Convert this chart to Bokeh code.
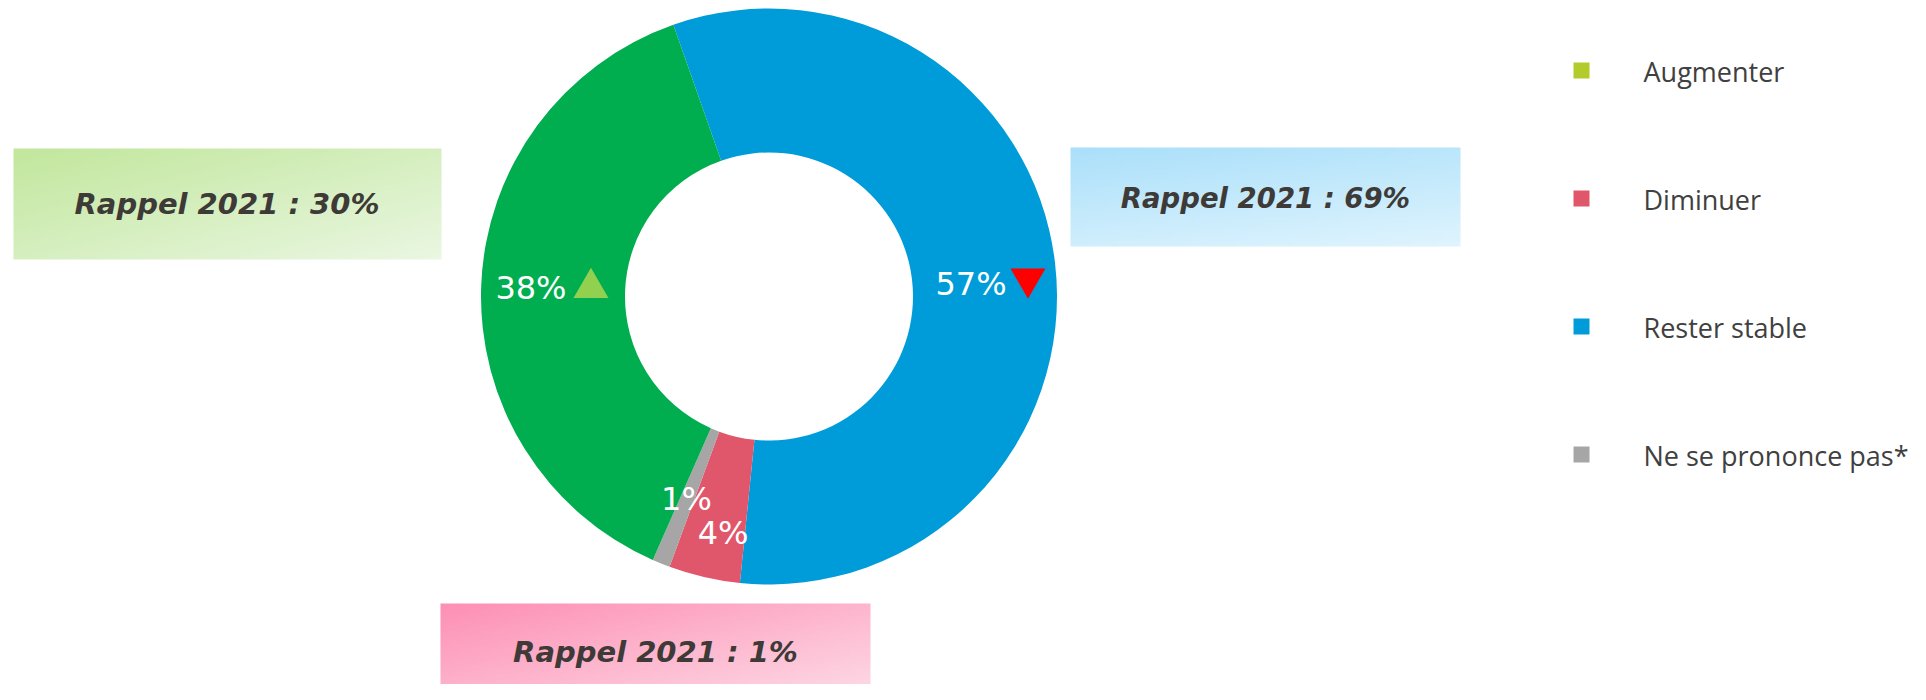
import numpy as np
from bokeh.plotting import figure
from bokeh.models import Range1d
from bokeh.core.properties import value
from bokeh.embed import file_html
from bokeh.resources import INLINE

# ---------------- data ----------------
categories = ["Augmenter", "Diminuer", "Rester stable", "Ne se prononce pas*"]
values_2023 = [38, 4, 57, 1]
rappel_2021 = [30, 1, 69, None]
trend = ["up", None, "down", None]
slice_colors = ["#00AE4F", "#E0566B", "#009CD9", "#A6A6A6"]
legend_colors = ["#B4CC2B", "#E0566B", "#009CD9", "#A6A6A6"]

# ---------------- layout helpers ----------------
W, H = 1910, 684
OFF = 0
BASE_FIX = 0.38  # baseline correction (fraction of font size)


def fx(X):
    return X - OFF


def fy(Y):
    return H + OFF - Y


p = figure(width=W, height=H, output_backend="svg", toolbar_location=None,
           x_range=Range1d(0, W), y_range=Range1d(0, H),
           x_axis_type=None, y_axis_type=None, min_border=0)
p.grid.visible = False
p.outline_line_color = None
p.background_fill_color = "white"
p.border_fill_color = "white"


def hex_rgb(h):
    h = h.lstrip("#")
    return np.array([int(h[i:i + 2], 16) for i in (0, 2, 4)], dtype=float)


def gradient_box(left, top, right, bottom, c0, c1, wx=0.5):
    w, h = right - left, bottom - top
    nx, ny = max(2, int(w // 3)), max(2, int(h // 3))
    u = np.linspace(0, 1, nx)[None, :]
    v = np.linspace(0, 1, ny)[:, None]
    t = wx * u + (1 - wx) * v
    a, b = hex_rgb(c0), hex_rgb(c1)
    rgb = a[None, None, :] + (b - a)[None, None, :] * t[..., None]
    img = np.empty((ny, nx), dtype=np.uint32)
    view = img.view(dtype=np.uint8).reshape((ny, nx, 4))
    view[..., :3] = np.clip(rgb, 0, 255).astype(np.uint8)
    view[..., 3] = 255
    p.image_rgba(image=[img[::-1]], x=fx(left), y=fy(bottom), dw=w, dh=h)


# ---------------- donut ----------------
CX, CY = fx(768.5), fy(296)
R_OUT, R_IN = 288, 144
START = -19.4  # degrees clockwise from top where the first drawn slice begins
draw_order = [2, 1, 3, 0]
total = float(sum(values_2023))

# label offsets (screen px: dx right, dy down) from the ring-middle point
label_offsets = {0: (-22.2, 12.3), 1: (2.6, 38.5), 2: (-12.5, 25.6), 3: (-1.6, 14.7)}
tri_offsets = {0: (60, -12.5), 2: (57, -18)}
LABEL_FS = 32

theta = START
r_mid = (R_OUT + R_IN) / 2
lab_x, lab_y, lab_t = [], [], []
for i in draw_order:
    span = values_2023[i] / total * 360.0
    th0, th1 = theta, theta + span
    p.annular_wedge(x=CX, y=CY, inner_radius=R_IN, outer_radius=R_OUT,
                    start_angle=np.radians(90 - th0), end_angle=np.radians(90 - th1),
                    direction="clock", fill_color=slice_colors[i], line_color=None)
    mid = np.radians((th0 + th1) / 2)
    mx = CX + r_mid * np.sin(mid)
    my = CY + r_mid * np.cos(mid)
    dx, dy = label_offsets[i]
    bx, by = mx + dx, my - dy
    lab_x.append(bx)
    lab_y.append(by + BASE_FIX * LABEL_FS)
    lab_t.append(f"{values_2023[i]}%")
    if trend[i] is not None:
        tx, ty = tri_offsets[i]
        p.scatter(x=[bx + tx], y=[by - ty], size=35,
                  marker="triangle" if trend[i] == "up" else "inverted_triangle",
                  fill_color="#92D050" if trend[i] == "up" else "#FF0000",
                  line_color=None)
    theta = th1

p.text(x=lab_x, y=lab_y, text=lab_t, text_color="white",
       text_font=value("DejaVu Sans"), text_font_size=f"{LABEL_FS}px",
       text_align="center", text_baseline="alphabetic")

# ---------------- "Rappel 2021" boxes ----------------
boxes = [
    # (category index, left, top, right, bottom, c0, c1, wx, text cx, baseline, size)
    (0, 13, 148, 441, 259, "#C2E79D", "#EAF7E2", 0.5, 226.5, 215, 29),
    (2, 1070, 147, 1460, 246, "#ABE0FA", "#DFF4FE", 0.3, 1265, 208, 27.5),
    (1, 440, 603, 870, 700, "#FE90B5", "#FDDCE7", 0.5, 655, 663, 29),
]
for ci, l, t_, r, b, c0, c1, wx, tcx, tbl, fs in boxes:
    gradient_box(l, t_, r, b, c0, c1, wx)
    p.text(x=[fx(tcx)], y=[fy(tbl) + BASE_FIX * fs], text=[f"Rappel 2021 : {rappel_2021[ci]}%"],
           text_color="#3D3A37", text_font=value("DejaVu Sans"),
           text_font_style="bold italic", text_font_size=f"{fs}px",
           text_align="center", text_baseline="alphabetic")

# ---------------- legend ----------------
LEG_FS = 27
leg_y = [70 + k * 128 for k in range(len(categories))]
p.scatter(x=[fx(1581)] * len(categories), y=[fy(v) for v in leg_y], marker="square",
          size=16, fill_color=legend_colors, line_color=None)
p.text(x=[fx(1643)] * len(categories), y=[fy(v + 11.5) + BASE_FIX * LEG_FS for v in leg_y],
       text=categories, text_color="#404040", text_font=value("Open Sans"),
       text_font_size=f"{LEG_FS}px", text_align="left", text_baseline="alphabetic")

open("out.html", "w").write(file_html(p, INLINE))
